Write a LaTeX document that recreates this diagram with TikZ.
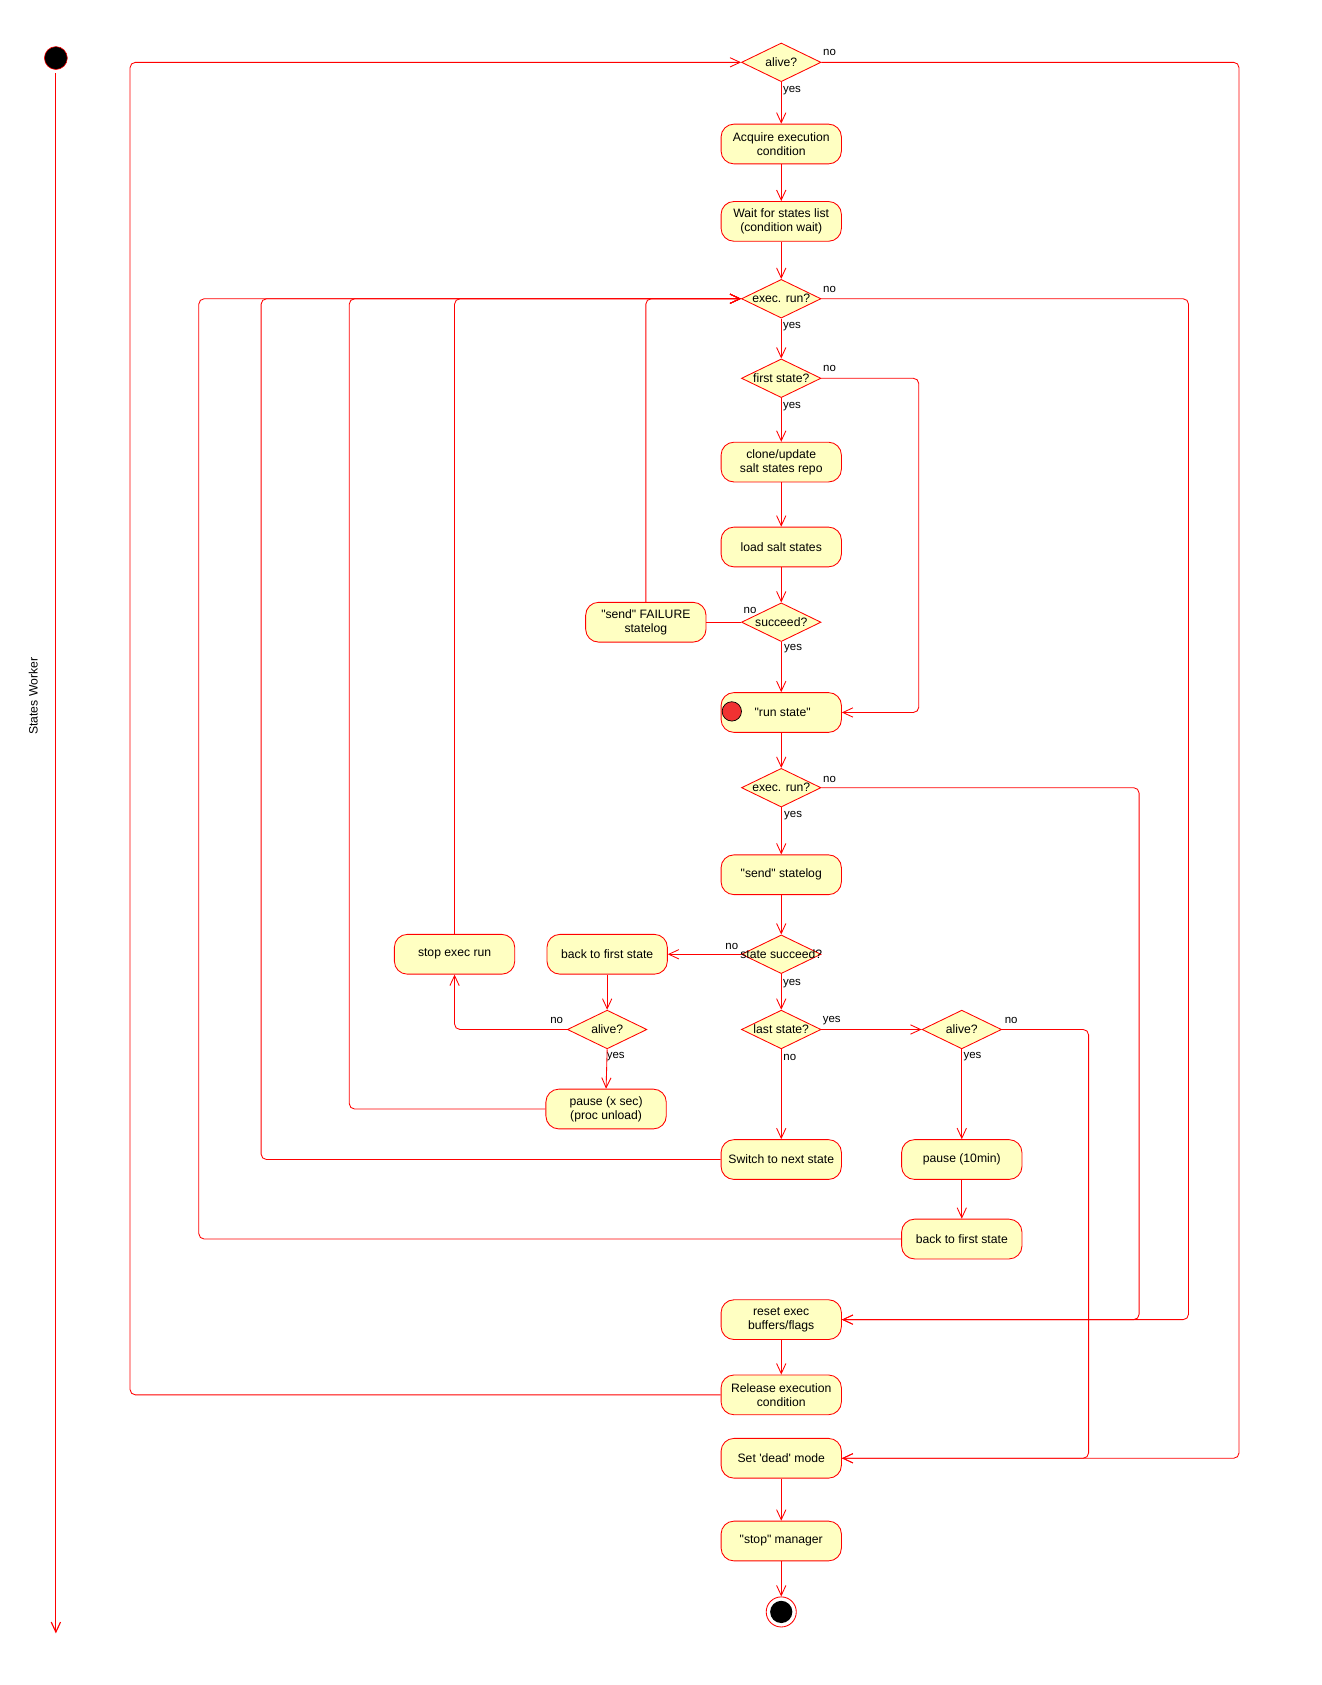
\documentclass[tikz,border=0pt]{standalone}
\usepackage{fontspec}
\setmainfont{Liberation Sans}[Ligatures=TeXOff]
\usetikzlibrary{shapes.geometric,arrows.meta}
\definecolor{bfill}{RGB}{255,255,194}
\definecolor{lred}{RGB}{255,0,0}
\definecolor{runred}{RGB}{240,50,50}
\begin{document}
\begin{tikzpicture}[x=0.75pt,y=-0.75pt,
  every node/.style={font=\fontsize{8.5}{9.8}\selectfont, text=black},
  act/.style={draw=lred, fill=bfill, rounded corners=9pt, minimum width=84pt, minimum height=27.75pt, align=center, inner sep=1pt, line width=0.6pt},
  dec/.style={draw=lred, fill=bfill, diamond, minimum width=55.5pt, minimum height=27pt, inner sep=0pt, line width=0.6pt},
  lbl/.style={font=\fontsize{8}{9}\selectfont, inner sep=0pt},
  conn/.style={draw=lred, line width=0.6pt, rounded corners=3.75pt},
  arr/.style={conn, -{Straight Barb[length=7pt,width=6.5pt]}},
]
\useasboundingbox (0,0) rectangle (1230,1568);

% start and lifeline
\node[circle, fill=black, draw=lred, line width=0.4pt, minimum size=16pt, inner sep=0pt] (st) at (52,54) {};
\coordinate (lend) at (52,1520);
\draw[arr, line width=0.8pt, shorten <=2.5pt] (st.south) -- (lend);
\node[rotate=90] (sw) at (31,648) {States Worker};

% activities
\node[act] (acq) at (727,134) {Acquire execution\\condition};
\node[act] (wait) at (727,206) {Wait for states list\\(condition wait)};
\node[act] (clone) at (727,430) {clone/update\\salt states repo};
\node[act] (load) at (727,509) {load salt states};
\node[act] (fail) at (601,579) {"send" FAILURE\\statelog};
\node[act] (run) at (727,663) {\hspace*{2pt}"run state"};
\node[circle, fill=runred, draw=black, line width=0.5pt, minimum size=13.5pt, inner sep=0pt] (rc) at (681,662) {};
\node[act] (slog) at (727,814) {"send" statelog};
\node[act] (back1) at (565,888) {back to first state};
\node[act] (stopx) at (423,888) {stop exec run};
\node[act] (pausex) at (564,1032) {pause (x sec)\\(proc unload)};
\node[act] (switch) at (727,1079) {Switch to next state};
\node[act] (pause10) at (895,1079) {pause (10min)};
\node[act] (back2) at (895,1153) {back to first state};
\node[act] (reset) at (727,1228) {reset exec\\buffers/flags};
\node[act] (release) at (727,1298) {Release execution\\condition};
\node[act] (dead) at (727,1357) {Set 'dead' mode};
\node[act] (stopm) at (727,1434) {"stop" manager};

% decisions
\node[dec] (al1) at (727,58) {\makebox[0pt]{alive?}};
\node[dec] (ex1) at (727,278) {\makebox[0pt]{exec. run?}};
\node[dec] (fs) at (727,352) {\makebox[0pt]{first state?}};
\node[dec] (sc) at (727,579) {\makebox[0pt]{succeed?}};
\node[dec] (ex2) at (727,733) {\makebox[0pt]{exec. run?}};
\node[dec] (ss) at (727,888) {\makebox[0pt]{state succeed?}};
\node[dec] (al2) at (565,958) {\makebox[0pt]{alive?}};
\node[dec] (ls) at (727,958) {\makebox[0pt]{last state?}};
\node[dec] (al3) at (895,958) {\makebox[0pt]{alive?}};

% end
\node[circle, draw=lred, line width=0.6pt, minimum size=21pt, inner sep=0pt] (endo) at (727,1500) {};
\node[circle, fill=black, minimum size=15.5pt, inner sep=0pt] (endi) at (727,1500) {};

% guard labels
\node[lbl] (n1) at (772,49) {no};
\node[lbl] (y1) at (737,84) {yes};
\node[lbl] (n2) at (772,269) {no};
\node[lbl] (y2) at (737,304) {yes};
\node[lbl] (n3) at (772,343) {no};
\node[lbl] (y3) at (737,378) {yes};
\node[lbl] (n4) at (698,568) {no};
\node[lbl] (y4) at (738,604) {yes};
\node[lbl] (n5) at (772,725) {no};
\node[lbl] (y5) at (738,759) {yes};
\node[lbl] (n6) at (681,881) {no};
\node[lbl] (y6) at (737,915) {yes};
\node[lbl] (n7) at (518,950) {no};
\node[lbl] (y7) at (573,983) {yes};
\node[lbl] (y8) at (774,950) {yes};
\node[lbl] (n8) at (735,984) {no};
\node[lbl] (n9) at (941,950) {no};
\node[lbl] (y9) at (905,983) {yes};

% straight flow
\draw[arr] (al1.south) -- (acq.north);
\draw[arr] (acq.south) -- (wait.north);
\draw[arr] (wait.south) -- (ex1.north);
\draw[arr] (ex1.south) -- (fs.north);
\draw[arr] (fs.south) -- (clone.north);
\draw[arr] (clone.south) -- (load.north);
\draw[arr] (load.south) -- (sc.north);
\draw[conn] (sc.west) -- (fail.east);
\draw[arr] (sc.south) -- (run.north);
\draw[arr] (run.south) -- (ex2.north);
\draw[arr] (ex2.south) -- (slog.north);
\draw[arr] (slog.south) -- (ss.north);
\draw[arr] (ss.west) -- (back1.east);
\draw[arr] (ss.south) -- (ls.north);
\draw[arr] (back1.south) -- (al2.north);
\draw[arr] (al2.south) -- (pausex.north);
\draw[arr] (ls.east) -- (al3.west);
\draw[arr] (ls.south) -- (switch.north);
\draw[arr] (al3.south) -- (pause10.north);
\draw[arr] (pause10.south) -- (back2.north);
\draw[arr] (reset.south) -- (release.north);
\draw[arr] (dead.south) -- (stopm.north);
\draw[arr] (stopm.south) -- (endo.north);
\draw[arr] (al2.west) -| (stopx.south);

% loops back to exec. run?
\draw[arr] (fail.north) |- (ex1.west);
\draw[arr] (stopx.north) |- (ex1.west);
\draw[arr] (pausex.west) -| (325,278) -- (ex1.west);
\draw[arr] (switch.west) -| (243,278) -- (ex1.west);
\draw[arr] (back2.west) -| (185,278) -- (ex1.west);

% outer loops
\draw[arr] (release.west) -| (121,58) -- (al1.west);
\draw[arr] (al1.east) -| (1153,1357) -- (dead.east);
\draw[arr] (ex1.east) -| (1106,1228) -- (reset.east);
\draw[arr] (fs.east) -| (855,663) -- (run.east);
\draw[arr] (ex2.east) -| (1060,1228) -- (reset.east);
\draw[arr] (al3.east) -| (1013,1357) -- (dead.east);
\end{tikzpicture}
\end{document}
